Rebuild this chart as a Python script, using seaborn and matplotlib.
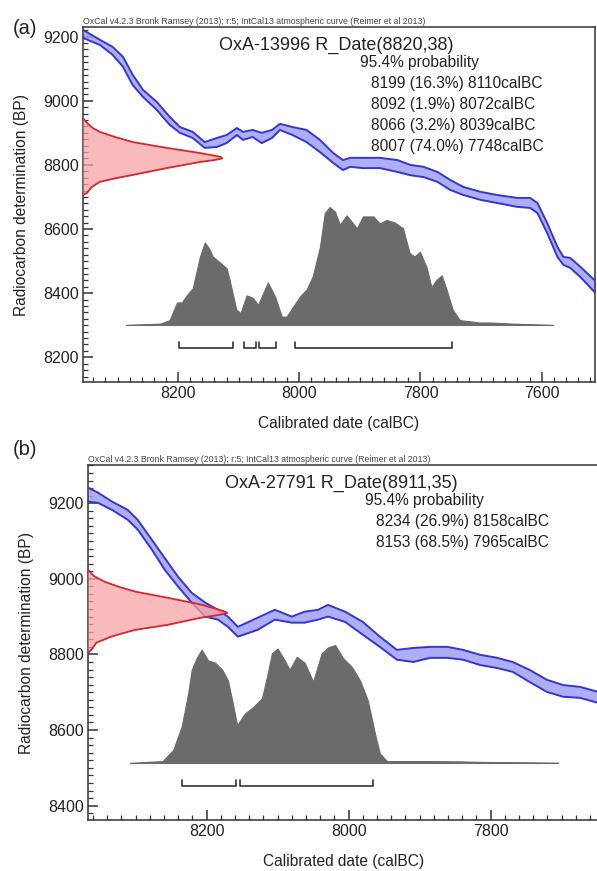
import numpy as np
import pandas as pd
import matplotlib
matplotlib.use('Agg')
import matplotlib.pyplot as plt
from matplotlib.ticker import MultipleLocator
import seaborn as sns

# ── Data: panel (a) OxA-13996 ─────────────────────────────────────────────────
curve_a_year = [8357, 8329, 8308, 8291, 8275, 8258, 8235, 8214, 8197, 8176, 8156, 8136,
                8120, 8103, 8093, 8077, 8062, 8045, 8032, 8011, 7988, 7966, 7944, 7928,
                7916, 7895, 7867, 7838, 7817, 7795, 7772, 7751, 7729, 7701, 7673, 7640,
                7619, 7607, 7591, 7574, 7564, 7553, 7536, 7508]
curve_a_upper = [9221, 9190, 9168, 9137, 9081, 9034, 8996, 8950, 8918, 8903, 8871, 8884,
                 8893, 8915, 8903, 8909, 8900, 8909, 8928, 8918, 8909, 8878, 8837, 8815,
                 8822, 8822, 8822, 8815, 8800, 8794, 8778, 8753, 8731, 8716, 8706, 8697,
                 8697, 8681, 8619, 8544, 8513, 8510, 8482, 8432]
curve_a_lower = [9196, 9174, 9143, 9106, 9049, 9012, 8971, 8925, 8900, 8884, 8853, 8856,
                 8868, 8893, 8878, 8887, 8868, 8884, 8909, 8893, 8871, 8840, 8806, 8784,
                 8794, 8790, 8790, 8778, 8768, 8762, 8747, 8722, 8706, 8691, 8681, 8669,
                 8666, 8650, 8588, 8513, 8488, 8479, 8450, 8394]

red_a_bp = [8946, 8930, 8915, 8903, 8887, 8871, 8853, 8837, 8825, 8820, 8815, 8809,
            8790, 8769, 8758, 8747, 8730, 8713, 8706]
red_a_dens = [0.0, 0.03, 0.07, 0.12, 0.23, 0.36, 0.60, 0.84, 0.99, 1.0, 0.94, 0.84,
              0.60, 0.36, 0.23, 0.12, 0.06, 0.03, 0.0]

cal_a_year = [8286, 8230, 8214, 8202, 8194, 8186, 8176, 8164, 8156, 8148, 8143, 8131,
              8120, 8115, 8104, 8097, 8087, 8077, 8068, 8052, 8040, 8029, 8021, 8011,
              7999, 7988, 7978, 7966, 7958, 7950, 7941, 7933, 7922, 7905, 7895, 7878,
              7867, 7856, 7843, 7829, 7818, 7810, 7801, 7790, 7782, 7774, 7765, 7757,
              7747, 7735, 7702, 7685, 7647, 7581]
cal_a_prob = [0.0, 0.01, 0.04, 0.19, 0.19, 0.25, 0.31, 0.58, 0.70, 0.64, 0.58, 0.53,
              0.48, 0.38, 0.13, 0.10, 0.25, 0.23, 0.17, 0.36, 0.24, 0.07, 0.07, 0.15,
              0.24, 0.30, 0.41, 0.66, 0.95, 1.0, 0.96, 0.85, 0.93, 0.82, 0.92, 0.92,
              0.86, 0.89, 0.87, 0.82, 0.61, 0.58, 0.62, 0.49, 0.32, 0.38, 0.42, 0.30,
              0.13, 0.04, 0.02, 0.02, 0.01, 0.0]

range_a_from = [8199, 8092, 8066, 8007]
range_a_to = [8110, 8072, 8039, 7748]
range_a_pct = [16.3, 1.9, 3.2, 74.0]

# ── Data: panel (b) OxA-27791 ─────────────────────────────────────────────────
curve_b_year = [8367, 8353, 8333, 8311, 8297, 8277, 8259, 8240, 8221, 8202, 8184, 8170,
                8156, 8128, 8104, 8080, 8062, 8043, 8029, 8005, 7980, 7956, 7932, 7909,
                7885, 7861, 7839, 7815, 7791, 7769, 7745, 7721, 7698, 7674, 7645]
curve_b_upper = [9241, 9228, 9204, 9182, 9156, 9103, 9055, 9005, 8963, 8937, 8918, 8900,
                 8873, 8897, 8918, 8900, 8913, 8918, 8931, 8913, 8886, 8847, 8812, 8817,
                 8820, 8820, 8812, 8799, 8791, 8780, 8759, 8733, 8719, 8714, 8699]
curve_b_lower = [9204, 9201, 9182, 9156, 9130, 9077, 9024, 8979, 8937, 8900, 8892, 8873,
                 8847, 8865, 8892, 8884, 8884, 8892, 8900, 8886, 8852, 8820, 8786, 8780,
                 8791, 8791, 8786, 8772, 8764, 8754, 8727, 8701, 8688, 8685, 8670]

red_b_bp = [9024, 9008, 8992, 8979, 8966, 8950, 8932, 8915, 8910, 8905, 8897, 8878,
            8865, 8855, 8846, 8831, 8815, 8804]
red_b_dens = [0.0, 0.04, 0.12, 0.22, 0.34, 0.57, 0.81, 0.97, 1.0, 0.95, 0.81, 0.57,
              0.34, 0.24, 0.16, 0.06, 0.03, 0.0]

cal_b_year = [8308, 8262, 8247, 8235, 8226, 8221, 8214, 8207, 8198, 8188, 8178, 8170,
              8164, 8157, 8146, 8135, 8122, 8115, 8108, 8100, 8090, 8083, 8073, 8062,
              8050, 8038, 8029, 8019, 8008, 7995, 7984, 7973, 7963, 7956, 7946, 7932,
              7885, 7839, 7815, 7705]
cal_b_prob = [0.0, 0.015, 0.11, 0.31, 0.59, 0.79, 0.89, 0.96, 0.87, 0.85, 0.79, 0.70,
              0.53, 0.32, 0.42, 0.47, 0.55, 0.73, 0.93, 0.97, 0.87, 0.79, 0.90, 0.85,
              0.69, 0.93, 0.98, 1.0, 0.89, 0.81, 0.70, 0.53, 0.25, 0.08, 0.015, 0.015,
              0.015, 0.012, 0.008, 0.0]

range_b_from = [8234, 8153]
range_b_to = [8158, 7965]
range_b_pct = [26.9, 68.5]

panels = [
    dict(tag='(a)', lab='OxA-13996', mean=8820, err=38,
         cy=curve_a_year, cu=curve_a_upper, cl=curve_a_lower,
         rbp=red_a_bp, rd=red_a_dens, gy=cal_a_year, gp=cal_a_prob,
         rf=range_a_from, rt=range_a_to, rp=range_a_pct,
         xlim=(8357, 7512), ylim=(8123, 9230), xmaj=200, ymaj=200,
         pos=[83 / 597, 489 / 871, 512 / 597, 355 / 871], tag_y=1 - 28 / 871),
    dict(tag='(b)', lab='OxA-27791', mean=8911, err=35,
         cy=curve_b_year, cu=curve_b_upper, cl=curve_b_lower,
         rbp=red_b_bp, rd=red_b_dens, gy=cal_b_year, gp=cal_b_prob,
         rf=range_b_from, rt=range_b_to, rp=range_b_pct,
         xlim=(8367, 7646), ylim=(8362, 9301), xmaj=200, ymaj=200,
         pos=[88 / 597, 51 / 871, 512 / 597, 355 / 871], tag_y=1 - 449 / 871),
]

header = ('OxCal v4.2.3 Bronk Ramsey (2013); r:5; IntCal13 atmospheric curve '
          '(Reimer et al 2013)')

# ── Style ─────────────────────────────────────────────────────────────────────
sns.set_style('ticks')
plt.rcParams['font.family'] = ['Liberation Sans', 'DejaVu Sans']
txt = '#222222'
blue_edge = '#3535d0'
blue_fill = '#a0a0f6'
red_edge = '#d9262e'
red_fill = '#f6a3a5'
grey = '#6b6b6b'

fig = plt.figure(figsize=(5.97, 8.71), dpi=100)

for p in panels:
    ax = fig.add_axes(p['pos'])
    x0, x1 = p['xlim']
    y0, y1 = p['ylim']
    xspan = x0 - x1
    yspan = y1 - y0

    # calibration curve band
    cdf = pd.DataFrame({'year': p['cy'], 'upper': p['cu'], 'lower': p['cl']})
    ax.fill_between(cdf['year'], cdf['lower'], cdf['upper'], color=blue_fill,
                    alpha=0.85, lw=0, zorder=2)
    sns.lineplot(data=cdf, x='year', y='upper', color=blue_edge, lw=1.4,
                 sort=False, ax=ax, zorder=3)
    sns.lineplot(data=cdf, x='year', y='lower', color=blue_edge, lw=1.4,
                 sort=False, ax=ax, zorder=3)

    # radiocarbon date on the y axis
    rdf = pd.DataFrame({'bp': p['rbp'], 'dens': p['rd']})
    rdf['x'] = x0 - rdf['dens'] * 0.272 * xspan
    ax.fill_betweenx(rdf['bp'], x0, rdf['x'], color=red_fill, alpha=0.75,
                     lw=0, zorder=4)
    ax.plot(rdf['x'], rdf['bp'], color=red_edge, lw=1.3, zorder=5)

    # calibrated distribution
    base = y0 + 0.161 * yspan
    gdf = pd.DataFrame({'year': p['gy'], 'prob': p['gp']})
    gdf['top'] = base + gdf['prob'] * 0.332 * yspan
    ax.fill_between(gdf['year'], base, gdf['top'], color=grey, lw=0.8,
                    edgecolor=grey, zorder=2)
    ax.plot([gdf['year'].iloc[0], gdf['year'].iloc[-1]], [base, base],
            color='#9a9a9a', lw=0.8, zorder=1)

    # 95.4% range brackets
    by = y0 + 0.097 * yspan
    bh = 0.015 * yspan
    for a, b in zip(p['rf'], p['rt']):
        ax.plot([a, a, b, b], [by + bh, by, by, by + bh], color='#333333',
                lw=1.2, zorder=3)

    ax.set_xlim(x0, x1)
    ax.set_ylim(y0, y1)
    ax.xaxis.set_major_locator(MultipleLocator(p['xmaj']))
    ax.xaxis.set_minor_locator(MultipleLocator(20))
    ax.yaxis.set_major_locator(MultipleLocator(p['ymaj']))
    ax.yaxis.set_minor_locator(MultipleLocator(20))
    ax.tick_params(which='both', direction='in', colors='#333333',
                   labelcolor=txt, labelsize=11.5, pad=3)
    ax.tick_params(which='major', length=7, width=1.1)
    ax.tick_params(which='minor', length=3.5, width=0.9)
    for s in ax.spines.values():
        s.set_color('#333333')
        s.set_linewidth(1.1)
    ax.set_xlabel('Calibrated date (calBC)', fontsize=11.2, color=txt, labelpad=11)
    ax.set_ylabel('Radiocarbon determination (BP)', fontsize=11.2, color=txt,
                  labelpad=10)

    # annotations
    ax.text(0.0, 1.004, header, transform=ax.transAxes, fontsize=6.3,
            color='#444444', ha='left', va='bottom')
    ax.text(0.494, 0.949, f"{p['lab']} R_Date({p['mean']},{p['err']})",
            transform=ax.transAxes, fontsize=13, color=txt, ha='center', va='center')
    ax.text(0.541, 0.901, '95.4% probability', transform=ax.transAxes,
            fontsize=11.2, color=txt, ha='left', va='center')
    for i, (a, b, pc) in enumerate(zip(p['rf'], p['rt'], p['rp'])):
        ax.text(0.5625, 0.842 - i * 0.06, f'{a} ({pc:.1f}%) {b}calBC',
                transform=ax.transAxes, fontsize=11.2, color=txt,
                ha='left', va='center')

    fig.text(13 / 597, p['tag_y'], p['tag'], fontsize=14.5, color=txt,
             ha='left', va='center')

fig.savefig('out.png', dpi=100)
